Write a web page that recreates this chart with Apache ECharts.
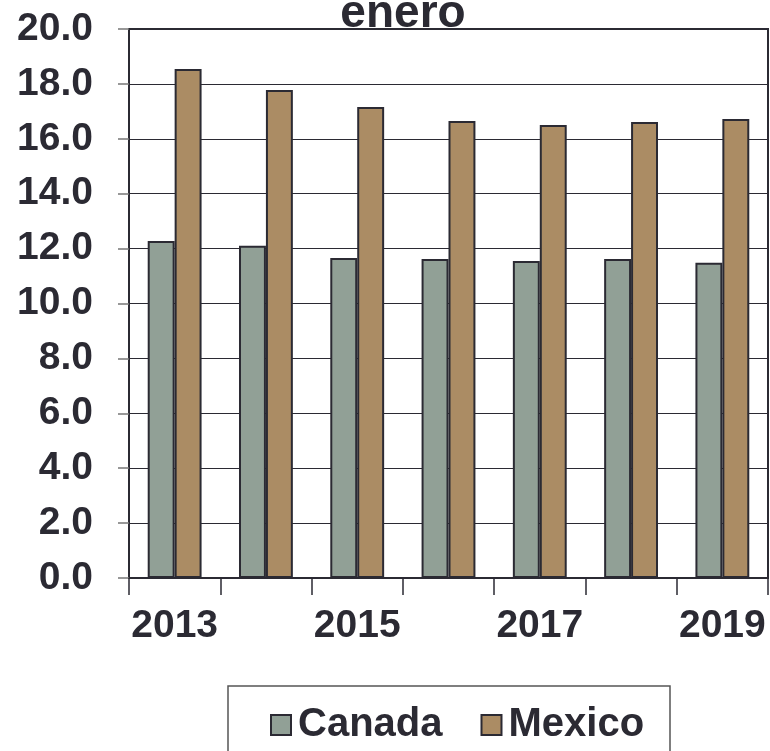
<!DOCTYPE html>
<html><head><meta charset="utf-8">
<script src="https://cdn.jsdelivr.net/npm/echarts@6/dist/echarts.min.js"></script>
<style>html,body{margin:0;padding:0;background:#fff}#c{width:770px;height:751px}</style>
</head><body><div id="c"></div>
<script>
const categories = ['2013','2014','2015','2016','2017','2018','2019'];
const canada = [12.28, 12.10, 11.66, 11.62, 11.55, 11.62, 11.48];
const mexico = [18.54, 17.78, 17.16, 16.65, 16.50, 16.61, 16.72];
const seriesNames = ['Canada', 'Mexico'];
const titleText = 'enero';

const dark = '#2b2a33';
const font = 'Liberation Sans';
const chart = echarts.init(document.getElementById('c'), null, {renderer: 'canvas'});
chart.setOption({
  animation: false,
  backgroundColor: '#fff',
  title: {text: titleText, left: 398, textAlign: 'center', top: -14,
    textStyle: {fontFamily: font, fontSize: 46, fontWeight: 'bold', color: dark}},
  grid: {left: 129, right: 2, top: 29, bottom: 173, show: true, borderColor: dark, borderWidth: 2, backgroundColor: 'transparent'},
  legend: {data: seriesNames, left: 265, top: 700, itemWidth: 20, itemHeight: 20, itemGap: 38, icon: 'rect',
    textStyle: {fontFamily: font, fontSize: 40, fontWeight: 'bold', color: dark, padding: [0,0,0,2]}},
  graphic: [{type: 'rect', shape: {x: 228, y: 686, width: 442, height: 80}, style: {fill: 'none', stroke: '#555', lineWidth: 1.5}, z: -1}],
  xAxis: {type: 'category', data: categories,
    axisLine: {lineStyle: {color: dark, width: 2}},
    axisTick: {show: true, interval: 0, length: 17, lineStyle: {color: dark, width: 1.5}},
    axisLabel: {interval: 1, margin: 29, fontFamily: font, fontSize: 39, fontWeight: 'bold', color: dark}},
  yAxis: {type: 'value', min: 0, max: 20, interval: 2,
    axisLine: {show: true, lineStyle: {color: dark, width: 2}},
    axisTick: {show: true, length: 11, lineStyle: {color: '#777', width: 1.5}},
    splitLine: {lineStyle: {color: dark, width: 1.2}},
    axisLabel: {margin: 36, fontFamily: font, fontSize: 39, fontWeight: 'bold', color: dark,
      formatter: v => v.toFixed(1)}},
  series: [
    {name: seriesNames[0], type: 'bar', data: canada, barGap: '0%', barCategoryGap: '41%',
      itemStyle: {color: '#91a096', borderColor: dark, borderWidth: 2}},
    {name: seriesNames[1], type: 'bar', data: mexico,
      itemStyle: {color: '#ab8c64', borderColor: dark, borderWidth: 2}}
  ]
});
</script></body></html>
